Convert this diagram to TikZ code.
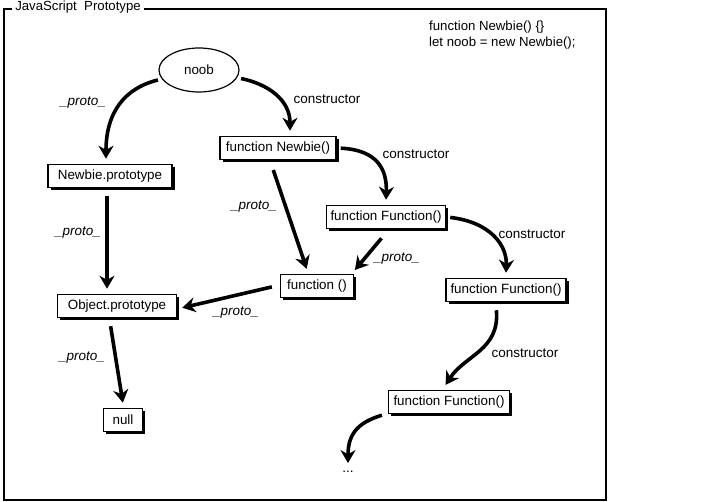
\documentclass[tikz,border=0pt]{standalone}
\usepackage{fontspec}
\setmainfont{Liberation Sans}
\usetikzlibrary{arrows.meta,shapes.geometric,shadows,calc}
\tikzset{
  objbox/.style={draw, line width=1.5pt, fill=white, inner xsep=3.5pt, minimum height=23pt,
    font=\fontsize{13.4}{15}\selectfont,
    drop shadow={shadow xshift=2.5pt, shadow yshift=-2.5pt, fill=black, opacity=1}},
  objell/.style={draw, ellipse, line width=1.2pt, fill=white, minimum width=80pt, minimum height=44pt,
    font=\fontsize{13.4}{15}\selectfont},
  link/.style={line width=3.6pt, -{Stealth[length=13pt,width=15pt]}, shorten <=4pt, shorten >=1pt},
  lbl/.style={font=\fontsize{13.5}{15}\selectfont, inner sep=1pt},
  plbl/.style={font=\fontsize{13.5}{15}\selectfont\itshape, inner sep=1pt},
}
\begin{document}
\begin{tikzpicture}[x=1pt,y=-1pt]
\useasboundingbox (0,0) rectangle (704,502);
% frame
\draw[line width=2.4pt] (4,9) rectangle (606,500);
\node[fill=white, inner xsep=3pt, inner ysep=1pt, font=\fontsize{13.2}{15}\selectfont] (title) at (78,7) {JavaScript\ \ Prototype};
% code
\node[align=left, anchor=north west, inner sep=0pt, font=\fontsize{13.2}{16}\selectfont] (code) at (429,21) {function Newbie() \{\}\\let noob = new Newbie();};
% nodes
\node[objell] (noob) at (199,70) {noob};
\node[objbox, minimum width=124pt] (np) at (110,176) {Newbie.prototype};
\node[objbox, minimum width=116pt] (fn) at (278,148) {function Newbie()};
\node[objbox, minimum width=119pt] (ff1) at (386,217) {function Function()};
\node[objbox, minimum width=73pt] (fun) at (317,286) {function ()};
\node[objbox, minimum width=119pt] (op) at (117,306) {Object.prototype};
\node[objbox, minimum width=120pt] (ff2) at (506,290) {function Function()};
\node[objbox, minimum width=121pt] (ff3) at (449,402) {function Function()};
\node[objbox, minimum width=39pt] (nul) at (123,420) {null};
\node[lbl] (dots) at (348,472) {...};
% curved constructor / proto links
\draw[link] (noob) .. controls (125,88) and (106,112) .. ($(np.north)+(-4,-4)$);
\draw[link] (noob) .. controls (268,84) and (290,100) .. ($(fn.north)+(12,-4)$);
\draw[link] (fn.east) .. controls (378,150) and (387,170) .. ($(ff1.north)+(0,-4)$);
\draw[link] (ff1.east) .. controls (490,222) and (507,245) .. ($(ff2.north)+(0,-4)$);
\draw[link] ($(ff2.south)+(-10,4)$) .. controls (500,350) and (465,355) .. ($(ff3.north)+(-4,-4)$);
\draw[link] ($(ff3.west)+(-2,12)$) .. controls (360,422) and (348,432) .. ($(dots.north)+(0,-6)$);
% straight links
\draw[link] ($(np.south)+(-3,4)$) -- ($(op.north)+(-10,-4)$);
\draw[link] ($(fn.south)+(-6,6)$) -- ($(fun.north)+(-10,-4)$);
\draw[link] ($(ff1.south)+(-2,6)$) -- ($(fun.north east)+(0,-3)$);
\draw[link] ($(fun.west)+(-4,0)$) -- ($(op.east)+(4,2)$);
\draw[link] ($(op.south)+(-7,4)$) -- ($(nul.north)+(0,-4)$);
% labels
\node[plbl] at (83,103) {\_proto\_};
\node[lbl] at (327,99) {constructor};
\node[lbl] at (416,154) {constructor};
\node[lbl] at (532,234) {constructor};
\node[lbl] at (525,353) {constructor};
\node[plbl] at (78,233) {\_proto\_};
\node[plbl] at (254,207) {\_proto\_};
\node[plbl] at (397,259) {\_proto\_};
\node[plbl] at (236,313) {\_proto\_};
\node[plbl] at (82,358) {\_proto\_};
\end{tikzpicture}
\end{document}
